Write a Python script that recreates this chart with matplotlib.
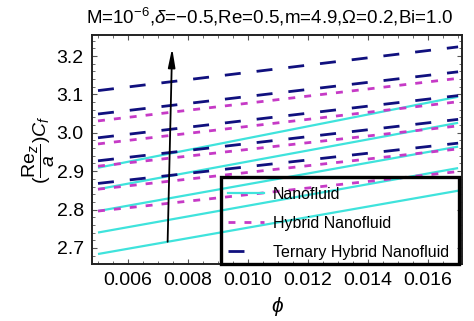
import numpy as np
import matplotlib
matplotlib.use("Agg")
import matplotlib.pyplot as plt
from matplotlib.patches import Rectangle
from matplotlib.lines import Line2D

plt.rcParams['font.family'] = ['Liberation Sans', 'DejaVu Sans']
plt.rcParams['mathtext.fontset'] = 'custom'
plt.rcParams['mathtext.rm'] = 'Liberation Sans'
plt.rcParams['mathtext.it'] = 'Liberation Sans:italic'
plt.rcParams['mathtext.bf'] = 'Liberation Sans:bold'
plt.rcParams['lines.scale_dashes'] = False

# Volume fraction range (end points of each straight curve)
phi = [0.005, 0.017]

# Skin friction values at phi = 0.005 and phi = 0.017, one entry per curve
nano_start = [2.684, 2.740, 2.796, 2.853, 2.909]
nano_end = [2.849, 2.908, 2.964, 3.026, 3.094]
hybrid_start = [2.796, 2.853, 2.913, 2.971, 3.031]
hybrid_end = [2.899, 2.958, 3.018, 3.081, 3.142]
ternary_start = [2.868, 2.927, 2.987, 3.049, 3.110]
ternary_end = [2.973, 3.035, 3.097, 3.159, 3.224]

# Arrow showing the direction of increasing parameter
arrow_tail = (0.00732, 2.716)
arrow_head = (0.00747, 3.221)

labels = ['Nanofluid', 'Hybrid Nanofluid', 'Ternary Hybrid Nanofluid']
c_nano = '#3fe3dc'
c_hybrid = '#c63ac6'
c_ternary = '#10107e'

fig = plt.figure(figsize=(4.74, 3.21), dpi=100)
ax = fig.add_axes([0.1941, 0.1776, 0.7806, 0.7134])

for y0, y1 in zip(nano_start, nano_end):
    ax.plot(phi, [y0, y1], color=c_nano, lw=1.6, solid_capstyle='butt')
for y0, y1 in zip(hybrid_start, hybrid_end):
    ax.plot(phi, [y0, y1], color=c_hybrid, lw=2.0, dashes=(5, 6.5),
            dash_capstyle='butt')
for y0, y1 in zip(ternary_start, ternary_end):
    ax.plot(phi, [y0, y1], color=c_ternary, lw=2.0, dashes=(11.5, 11.5),
            dash_capstyle='butt')

ax.annotate('', xy=arrow_head, xytext=arrow_tail,
            arrowprops=dict(arrowstyle='-|>,head_length=0.8,head_width=0.15',
                            color='black', lw=1.3, mutation_scale=14,
                            shrinkA=0, shrinkB=0))

ax.set_xlim(0.0048, 0.01713)
ax.set_ylim(2.658, 3.255)
ax.set_xticks(np.arange(0.006, 0.0161, 0.002))
ax.set_xticklabels(['0.006', '0.008', '0.010', '0.012', '0.014', '0.016'])
ax.set_yticks([2.7, 2.8, 2.9, 3.0, 3.1, 3.2])
ax.set_yticklabels(['2.7', '2.8', '2.9', '3.0', '3.1', '3.2'])
ax.set_xticks(np.arange(0.005, 0.0171, 0.0005), minor=True)
ax.set_yticks(np.arange(2.66, 3.255, 0.02), minor=True)
ax.tick_params(which='both', direction='in', top=True, right=True,
               labelsize=14, color='#555555')
ax.tick_params(which='major', length=3.5, width=0.8, pad=6)
ax.tick_params(which='minor', length=2, width=0.6)
for sp in ax.spines.values():
    sp.set_linewidth(1.4)
    sp.set_color('#222222')

ax.set_title(r'M=10$^{-6}$,$\delta$=−0.5,Re=0.5,m=4.9,$\Omega$=0.2,Bi=1.0',
             fontsize=13.5, pad=8, x=0.48)
ax.set_xlabel(r'$\phi$', fontsize=15, labelpad=4)
ax.set_ylabel(r'$(\dfrac{\mathrm{Re}_z}{a})C_f$', fontsize=14, labelpad=0)

handles = [
    Line2D([], [], color=c_nano, lw=1.6),
    Line2D([], [], color=c_hybrid, lw=2.0, dashes=(5, 6.5)),
    Line2D([], [], color=c_ternary, lw=2.0, dashes=(11.5, 20)),
]
leg = ax.legend(handles, labels, loc='upper left',
                bbox_to_anchor=(0.33, 0.40), frameon=False, fontsize=11.5,
                handlelength=2.2, handletextpad=0.6, labelspacing=0.88)
ax.add_patch(Rectangle((0.349, 0.0), 0.643, 0.38, transform=ax.transAxes,
                       fill=False, edgecolor='black', lw=2.4, zorder=5,
                       clip_on=False))

fig.savefig('out.png', dpi=100)
